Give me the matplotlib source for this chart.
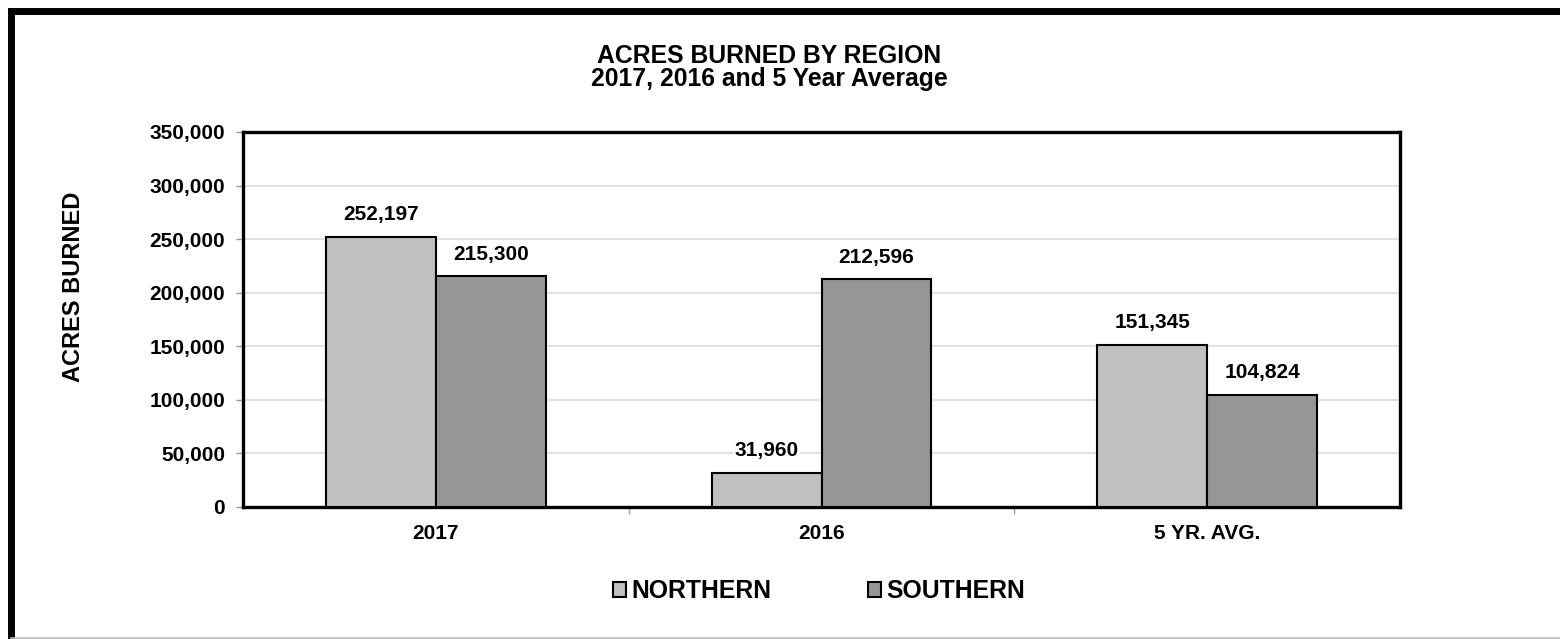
import matplotlib
matplotlib.use("Agg")
import matplotlib.pyplot as plt
from matplotlib.lines import Line2D
from matplotlib.ticker import FuncFormatter
import numpy as np

plt.rcParams["font.family"] = ["Liberation Sans", "DejaVu Sans"]
plt.rcParams["font.weight"] = "bold"

# data
categories = ["2017", "2016", "5 YR. AVG."]
northern = [252197, 31960, 151345]
southern = [215300, 212596, 104824]
series_names = ["NORTHERN", "SOUTHERN"]

W, H = 1560, 639
fig = plt.figure(figsize=(W / 100, H / 100), dpi=100)
fig.patch.set_facecolor("white")
ax = fig.add_axes([243 / W, 1 - 507 / H, (1400 - 243) / W, (507 - 132) / H])

x = np.arange(len(categories))
bw = 0.285
b1 = ax.bar(x - bw / 2, northern, bw, color="#c0c0c0", edgecolor="black", linewidth=1.5, zorder=3)
b2 = ax.bar(x + bw / 2, southern, bw, color="#969696", edgecolor="black", linewidth=1.5, zorder=3)

# 数值标签
for bars, vals in ((b1, northern), (b2, southern)):
    for bar, v in zip(bars, vals):
        ax.annotate(f"{v:,}", (bar.get_x() + bar.get_width() / 2, v),
                    xytext=(0, 9), textcoords="offset points", ha="center", va="bottom",
                    fontsize=15, fontweight="bold", zorder=5,
                    bbox=dict(facecolor="white", edgecolor="none", pad=1))

ax.set_xlim(-0.5, 2.5)
ax.set_ylim(0, 350000)
ax.set_yticks(np.arange(0, 350001, 50000))
ax.yaxis.set_major_formatter(FuncFormatter(lambda v, p: f"{int(v):,}"))
ax.set_xticks(x)
ax.set_xticklabels(categories)
ax.set_xticks([0.5, 1.5], minor=True)
ax.tick_params(axis="x", which="major", length=0, pad=12, labelsize=15)
ax.tick_params(axis="x", which="minor", length=5, color="#999999", width=1)
ax.tick_params(axis="y", length=5, color="#999999", width=1, pad=8, labelsize=15)
for lab in ax.get_xticklabels() + ax.get_yticklabels():
    lab.set_fontweight("bold")

ax.grid(True, axis="y", color="#dcdcdc", linewidth=1.2, zorder=0)
ax.set_axisbelow(True)
for s in ax.spines.values():
    s.set_linewidth(2.4)
    s.set_color("black")

fig.text(769 / W, 1 - 56 / H, "ACRES BURNED BY REGION", ha="center", va="center",
         fontsize=17.8, fontweight="bold")
fig.text(769 / W, 1 - 79 / H, "2017, 2016 and 5 Year Average", ha="center", va="center",
         fontsize=17.8, fontweight="bold")
fig.text(73 / W, 1 - 287 / H, "ACRES BURNED", rotation=90, ha="center", va="center",
         fontsize=17, fontweight="bold")

# legend
leg = fig.legend([b1, b2], series_names, loc="center", bbox_to_anchor=(819 / W, 1 - 591 / H),
                 ncol=2, frameon=False, handlelength=0.55, handleheight=0.55,
                 handletextpad=0.2, columnspacing=3.9, prop={"weight": "bold", "size": 17.8})

# outer frame
fig.add_artist(Line2D([11 / W, 1.0], [1 - 11 / H, 1 - 11 / H], transform=fig.transFigure,
                      color="black", linewidth=5, solid_capstyle="projecting"))
fig.add_artist(Line2D([11 / W, 11 / W], [1 - 11 / H, 0], transform=fig.transFigure,
                      color="black", linewidth=5, solid_capstyle="projecting"))
fig.add_artist(Line2D([11 / W, 1.0], [1 / H, 1 / H], transform=fig.transFigure,
                      color="#bbbbbb", linewidth=1.2))

fig.savefig("out.png", dpi=100, facecolor="white")
